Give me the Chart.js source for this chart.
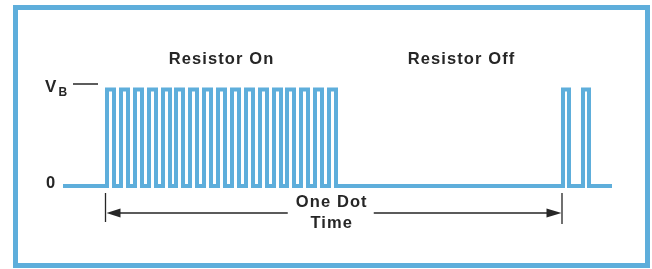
<!DOCTYPE html>
<html>
<head>
<meta charset="utf-8">
<script src="https://cdn.jsdelivr.net/npm/chart.js@4.4.1/dist/chart.umd.min.js"></script>
<style>
    html, body { margin: 0; padding: 0; background: #fff; }
    #wrap { position: relative; width: 652px; height: 269px; overflow: hidden; }
    #frame {
        position: absolute; left: 13px; top: 5px; width: 637px; height: 263px;
        box-sizing: border-box; border: 5px solid #5eaedb; pointer-events: none;
    }
</style>
</head>
<body>
<div id="wrap">
    <canvas id="pulseChart" width="652" height="269"></canvas>
    <div id="frame"></div>
</div>
<script>
// 펄스 에지 시각 (첫 상승 에지 = 0 기준, 그림에서 읽은 값)
const onRise = [0, 14, 28, 42, 56, 69, 83, 97, 111, 125, 139, 153, 167, 180, 194, 208, 222];
const onFall = [7, 21, 35, 49, 63, 76, 90, 104, 118, 132, 146, 160, 174, 187, 201, 215, 229];
const nextRise = [456, 476];
const nextFall = [462, 482];
const traceStart = -44;
const traceEnd = 505;
const levelLow = 0;
const levelHigh = 1;

// 텍스트
const sectionLabels = ['Resistor On', 'Resistor Off'];
const sectionLabelX = [114.5, 354.5];
const levelLabels = ['0', 'V', 'B'];
const dotLabels = ['One Dot', 'Time'];
const dotStart = 0;
const dotEnd = 456;

const LINE = '#5eaedb';
const INK = '#262626';
const FONT = 'bold 16.5px "Liberation Sans", Arial, sans-serif';

function buildTrace() {
    const rises = onRise.concat(nextRise);
    const falls = onFall.concat(nextFall);
    const pts = [{ x: traceStart, y: levelLow }];
    rises.forEach((r, i) => {
        pts.push({ x: r, y: levelLow }, { x: r, y: levelHigh });
        pts.push({ x: falls[i], y: levelHigh }, { x: falls[i], y: levelLow });
    });
    pts.push({ x: traceEnd, y: levelLow });
    return pts;
}

const labelPlugin = {
    id: 'labelPlugin',
    afterDatasetsDraw(chart) {
        const ctx = chart.ctx;
        const xs = chart.scales.x;
        const ys = chart.scales.y;
        const yLow = ys.getPixelForValue(levelLow);
        const yHigh = ys.getPixelForValue(levelHigh);
        ctx.save();
        ctx.fillStyle = INK;
        ctx.strokeStyle = INK;
        ctx.textAlign = 'center';
        ctx.textBaseline = 'alphabetic';
        ctx.font = FONT;
        ctx.letterSpacing = '1.1px';

        // Resistor On / Off
        sectionLabels.forEach((t, i) => {
            ctx.fillText(t, xs.getPixelForValue(sectionLabelX[i]), yHigh - 26);
        });

        // 0 / V_B
        ctx.letterSpacing = '0px';
        ctx.textAlign = 'left';
        ctx.fillText(levelLabels[0], 46, yLow + 2);
        ctx.font = 'bold 17px "Liberation Sans", Arial, sans-serif';
        ctx.fillText(levelLabels[1], 45, yHigh + 2.5);
        ctx.font = 'bold 12px "Liberation Sans", Arial, sans-serif';
        ctx.fillText(levelLabels[2], 58.5, yHigh + 6);
        ctx.lineWidth = 1.5;
        ctx.beginPath();
        ctx.moveTo(73, yHigh - 5.5);
        ctx.lineTo(98, yHigh - 5.5);
        ctx.stroke();

        // One Dot Time 화살표
        const x0 = xs.getPixelForValue(dotStart) - 1.5;
        const x1 = xs.getPixelForValue(dotEnd) - 1;
        const xm = (x0 + x1) / 2 - 2;
        const ya = yLow + 27;
        ctx.lineWidth = 1.3;
        ctx.beginPath();
        ctx.moveTo(x0, yLow + 7); ctx.lineTo(x0, yLow + 36);
        ctx.moveTo(x1, yLow + 7); ctx.lineTo(x1, yLow + 38);
        ctx.moveTo(x0 + 10, ya); ctx.lineTo(xm - 44, ya);
        ctx.moveTo(xm + 42, ya); ctx.lineTo(x1 - 10, ya);
        ctx.stroke();
        ctx.beginPath();
        ctx.moveTo(x0 + 1, ya); ctx.lineTo(x0 + 15, ya - 4.5); ctx.lineTo(x0 + 15, ya + 4.5);
        ctx.closePath();
        ctx.moveTo(x1 - 0.5, ya); ctx.lineTo(x1 - 15.5, ya - 4.5); ctx.lineTo(x1 - 15.5, ya + 4.5);
        ctx.closePath();
        ctx.fill();

        ctx.textAlign = 'center';
        ctx.font = FONT;
        ctx.letterSpacing = '1.1px';
        ctx.fillText(dotLabels[0], xm, yLow + 21);
        ctx.fillText(dotLabels[1], xm, yLow + 42);
        ctx.restore();
    }
};

const ctx = document.getElementById('pulseChart').getContext('2d');
const pulseChart = new Chart(ctx, {
    type: 'line',
    data: {
        datasets: [{
            data: buildTrace(),
            borderColor: LINE,
            borderWidth: 4,
            pointRadius: 0,
            tension: 0,
            fill: false,
            clip: false,
            borderJoinStyle: 'miter'
        }]
    },
    options: {
        responsive: false,
        animation: false,
        events: [],
        layout: { padding: { left: 63, right: 40, top: 89.5, bottom: 83 } },
        plugins: { legend: { display: false }, tooltip: { enabled: false } },
        scales: {
            x: { type: 'linear', min: traceStart, max: traceEnd, display: false },
            y: { min: levelLow, max: levelHigh, display: false }
        }
    },
    plugins: [labelPlugin]
});
</script>
</body>
</html>
